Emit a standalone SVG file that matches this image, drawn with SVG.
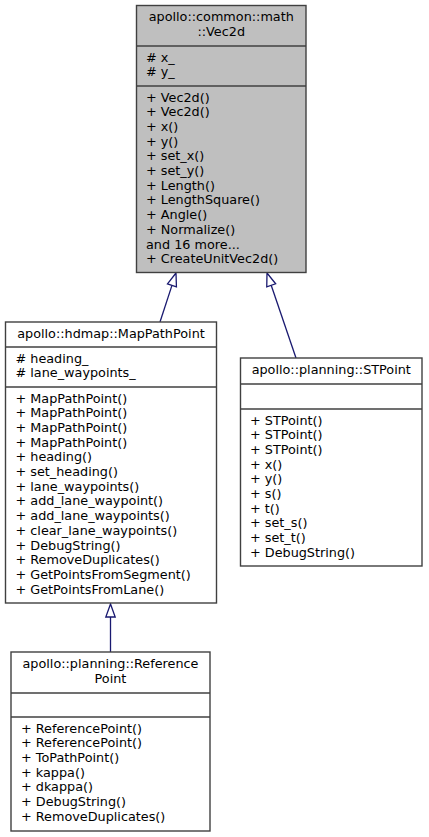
<svg xmlns="http://www.w3.org/2000/svg" width="429" height="837" viewBox="0 0 429 837">
<style>
text { font-family: "DejaVu Sans", "Liberation Sans", sans-serif; font-size: 12.8px; fill: #000000; }
.c { text-anchor: middle; }
.box { fill: #ffffff; stroke: #404040; stroke-width: 1.4; }
.main { fill: #bfbfbf; stroke: #404040; stroke-width: 1.4; }
.sep { stroke: #404040; stroke-width: 1.4; fill: none; }
.edge { stroke: #191970; stroke-width: 1.3; fill: none; }
.head { stroke: #191970; stroke-width: 1.3; fill: #ffffff; }
</style>
<rect width="429" height="837" fill="#ffffff"/>

<g id="connectors">
  <line class="edge" x1="160" y1="322" x2="171.96" y2="285.36"/>
  <polygon class="head" points="176,273 167.49,283.9 176.43,286.82"/>
  <line class="edge" x1="296" y1="358" x2="271.2" y2="285.31"/>
  <polygon class="head" points="267,273 275.65,283.79 266.75,286.83"/>
  <line class="edge" x1="110.5" y1="652" x2="110.5" y2="617"/>
  <polygon class="head" points="110.5,604 105.8,617 115.2,617"/>
</g>

<g id="node-vec2d">
  <rect class="main" x="136.5" y="5.5" width="169.5" height="267"/>
  <text class="c" x="221.25" y="21">apollo::common::math</text>
  <text class="c" x="221.25" y="35.7">::Vec2d</text>
  <line class="sep" x1="136.5" y1="46" x2="306" y2="46"/>
  <text x="146" y="61.5"># x_</text>
  <text x="146" y="76.2"># y_</text>
  <line class="sep" x1="136.5" y1="86" x2="306" y2="86"/>
  <text x="146" y="101.5">+ Vec2d()</text>
  <text x="146" y="116.2">+ Vec2d()</text>
  <text x="146" y="130.9">+ x()</text>
  <text x="146" y="145.6">+ y()</text>
  <text x="146" y="160.3">+ set_x()</text>
  <text x="146" y="175">+ set_y()</text>
  <text x="146" y="189.7">+ Length()</text>
  <text x="146" y="204.4">+ LengthSquare()</text>
  <text x="146" y="219.1">+ Angle()</text>
  <text x="146" y="233.8">+ Normalize()</text>
  <text x="146" y="248.5">and 16 more...</text>
  <text x="146" y="263.2">+ CreateUnitVec2d()</text>
</g>

<g id="node-mappathpoint">
  <rect class="box" x="5.5" y="322" width="211" height="281"/>
  <text class="c" x="111" y="338">apollo::hdmap::MapPathPoint</text>
  <line class="sep" x1="5.5" y1="347" x2="216.5" y2="347"/>
  <text x="15.5" y="362.5"># heading_</text>
  <text x="15.5" y="377.2"># lane_waypoints_</text>
  <line class="sep" x1="5.5" y1="387" x2="216.5" y2="387"/>
  <text x="15.5" y="402.5">+ MapPathPoint()</text>
  <text x="15.5" y="417.2">+ MapPathPoint()</text>
  <text x="15.5" y="431.9">+ MapPathPoint()</text>
  <text x="15.5" y="446.6">+ MapPathPoint()</text>
  <text x="15.5" y="461.3">+ heading()</text>
  <text x="15.5" y="476">+ set_heading()</text>
  <text x="15.5" y="490.7">+ lane_waypoints()</text>
  <text x="15.5" y="505.4">+ add_lane_waypoint()</text>
  <text x="15.5" y="520.1">+ add_lane_waypoints()</text>
  <text x="15.5" y="534.8">+ clear_lane_waypoints()</text>
  <text x="15.5" y="549.5">+ DebugString()</text>
  <text x="15.5" y="564.2">+ RemoveDuplicates()</text>
  <text x="15.5" y="578.9">+ GetPointsFromSegment()</text>
  <text x="15.5" y="593.6">+ GetPointsFromLane()</text>
</g>

<g id="node-stpoint">
  <rect class="box" x="240.5" y="358" width="181.5" height="208"/>
  <text class="c" x="331.25" y="374">apollo::planning::STPoint</text>
  <line class="sep" x1="240.5" y1="384" x2="422" y2="384"/>
  <line class="sep" x1="240.5" y1="409" x2="422" y2="409"/>
  <text x="250" y="424.5">+ STPoint()</text>
  <text x="250" y="439.2">+ STPoint()</text>
  <text x="250" y="453.9">+ STPoint()</text>
  <text x="250" y="468.6">+ x()</text>
  <text x="250" y="483.3">+ y()</text>
  <text x="250" y="498">+ s()</text>
  <text x="250" y="512.7">+ t()</text>
  <text x="250" y="527.4">+ set_s()</text>
  <text x="250" y="542.1">+ set_t()</text>
  <text x="250" y="556.8">+ DebugString()</text>
</g>

<g id="node-referencepoint">
  <rect class="box" x="11" y="652" width="199" height="179"/>
  <text class="c" x="110.5" y="668">apollo::planning::Reference</text>
  <text class="c" x="110.5" y="682.7">Point</text>
  <line class="sep" x1="11" y1="693" x2="210" y2="693"/>
  <line class="sep" x1="11" y1="717" x2="210" y2="717"/>
  <text x="21" y="732.5">+ ReferencePoint()</text>
  <text x="21" y="747.2">+ ReferencePoint()</text>
  <text x="21" y="761.9">+ ToPathPoint()</text>
  <text x="21" y="776.6">+ kappa()</text>
  <text x="21" y="791.3">+ dkappa()</text>
  <text x="21" y="806">+ DebugString()</text>
  <text x="21" y="820.7">+ RemoveDuplicates()</text>
</g>
</svg>
